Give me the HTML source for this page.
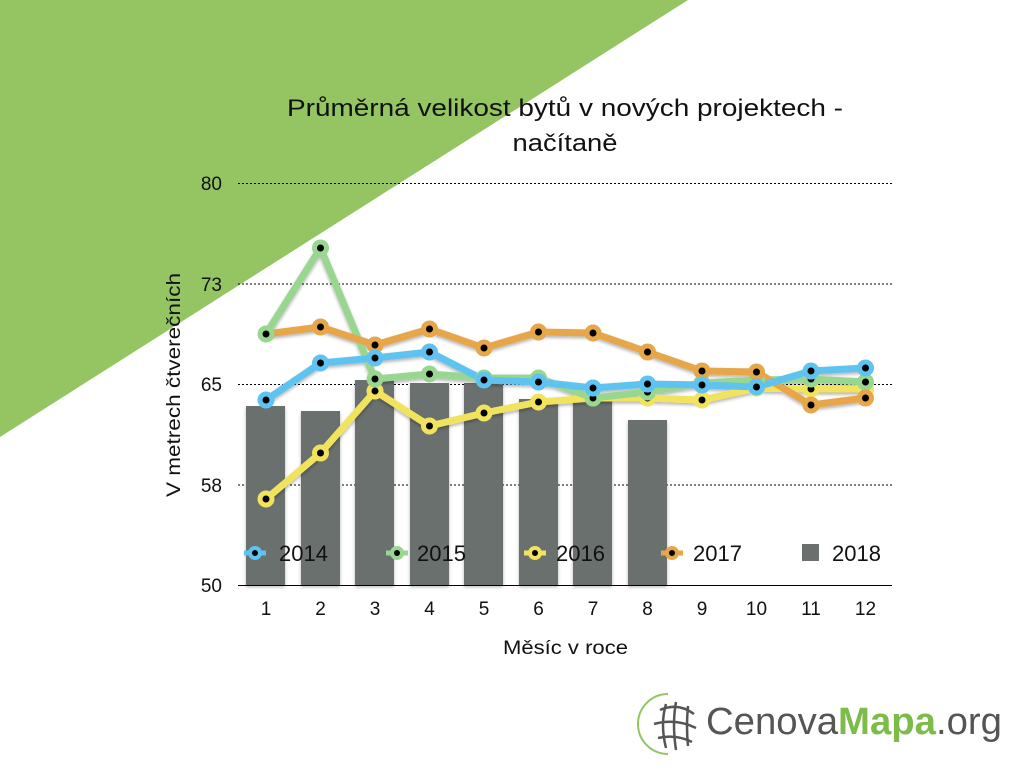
<!DOCTYPE html>
<html><head><meta charset="utf-8"><style>
html,body{margin:0;padding:0;background:#fff;}
svg{display:block;font-family:"Liberation Sans",sans-serif;}
</style></head><body>
<svg width="1024" height="768" viewBox="0 0 1024 768">
<defs><filter id="sh" x="-10%" y="-10%" width="120%" height="130%"><feDropShadow dx="0" dy="2" stdDeviation="1.5" flood-opacity="0.3"/></filter></defs>
<polygon points="0,0 688,0 0,437" fill="#95c462"/>
<text x="287" y="116" font-size="24" fill="#111" textLength="556" lengthAdjust="spacingAndGlyphs">Průměrná velikost bytů v nových projektech -</text>
<text x="565" y="151" font-size="24" text-anchor="middle" fill="#111" textLength="105" lengthAdjust="spacingAndGlyphs">načítaně</text>
<g stroke="#000" stroke-width="1" stroke-dasharray="2,2">
<line x1="238" y1="183.5" x2="892" y2="183.5"/><line x1="238" y1="284" x2="892" y2="284"/>
<line x1="238" y1="384.5" x2="892" y2="384.5"/><line x1="238" y1="485" x2="892" y2="485"/>
</g>
<line x1="238" y1="585.5" x2="892" y2="585.5" stroke="#000" stroke-width="1"/>
<g font-size="19" fill="#111" text-anchor="end">
<text x="222" y="190">80</text><text x="222" y="291">73</text><text x="222" y="391">65</text><text x="222" y="492">58</text><text x="222" y="592">50</text>
</g>
<g font-size="19" fill="#111" text-anchor="middle">
<text x="266" y="615">1</text><text x="320.5" y="615">2</text><text x="375" y="615">3</text><text x="429.5" y="615">4</text><text x="484" y="615">5</text><text x="538.5" y="615">6</text><text x="593" y="615">7</text><text x="647.5" y="615">8</text><text x="702" y="615">9</text><text x="756.5" y="615">10</text><text x="811" y="615">11</text><text x="865.5" y="615">12</text>
</g>
<text x="503" y="654" font-size="19" fill="#111" textLength="125" lengthAdjust="spacingAndGlyphs">Měsíc v roce</text>
<text transform="translate(180,497) rotate(-90)" font-size="19" fill="#111" textLength="224" lengthAdjust="spacingAndGlyphs">V metrech čtverečních</text>
<g fill="#6b706e" filter="url(#sh)">
<rect x="246" y="406" width="39" height="179"/><rect x="301" y="411" width="39" height="174"/>
<rect x="355" y="380" width="39" height="205"/><rect x="410" y="383" width="39" height="202"/>
<rect x="464" y="383" width="39" height="202"/><rect x="519" y="399" width="39" height="186"/>
<rect x="573" y="400" width="39" height="185"/><rect x="628" y="420" width="39" height="165"/>
</g>
<g fill="none" stroke-width="7" stroke-linejoin="round" filter="url(#sh)">
<polyline stroke="#f2e35f" points="266,499 320.5,453 375,391 429.5,426 484,413 538.5,402 593,398 647.5,398 702,400 756.5,388 811,389 865.5,389"/>
<polyline stroke="#99d68f" points="266,334 320.5,248 375,379 429.5,374 484,378 538.5,378 593,398 647.5,392 702,383 756.5,380 811,379 865.5,382"/>
<polyline stroke="#e6a64a" points="266,334 320.5,327 375,345 429.5,329 484,348 538.5,332 593,333 647.5,352 702,371 756.5,372 811,405 865.5,398"/>
<polyline stroke="#5ec3f0" points="266,400 320.5,363 375,358 429.5,352 484,380 538.5,382 593,388 647.5,384 702,385 756.5,387 811,371 865.5,368"/>
</g>
<g>
<g fill="#000" stroke="#f2e35f" stroke-width="5">
<circle cx="266" cy="499" r="6"/><circle cx="320.5" cy="453" r="6"/><circle cx="375" cy="391" r="6"/><circle cx="429.5" cy="426" r="6"/><circle cx="484" cy="413" r="6"/><circle cx="538.5" cy="402" r="6"/><circle cx="593" cy="398" r="6"/><circle cx="647.5" cy="398" r="6"/><circle cx="702" cy="400" r="6"/><circle cx="756.5" cy="388" r="6"/><circle cx="811" cy="389" r="6"/><circle cx="865.5" cy="389" r="6"/>
</g>
<g fill="#000" stroke="#99d68f" stroke-width="5">
<circle cx="266" cy="334" r="6"/><circle cx="320.5" cy="248" r="6"/><circle cx="375" cy="379" r="6"/><circle cx="429.5" cy="374" r="6"/><circle cx="484" cy="378" r="6"/><circle cx="538.5" cy="378" r="6"/><circle cx="593" cy="398" r="6"/><circle cx="647.5" cy="392" r="6"/><circle cx="702" cy="383" r="6"/><circle cx="756.5" cy="380" r="6"/><circle cx="811" cy="379" r="6"/><circle cx="865.5" cy="382" r="6"/>
</g>
<g fill="#000" stroke="#e6a64a" stroke-width="5">
<circle cx="320.5" cy="327" r="6"/><circle cx="375" cy="345" r="6"/><circle cx="429.5" cy="329" r="6"/><circle cx="484" cy="348" r="6"/><circle cx="538.5" cy="332" r="6"/><circle cx="593" cy="333" r="6"/><circle cx="647.5" cy="352" r="6"/><circle cx="702" cy="371" r="6"/><circle cx="756.5" cy="372" r="6"/><circle cx="811" cy="405" r="6"/><circle cx="865.5" cy="398" r="6"/>
</g>
<g fill="#000" stroke="#5ec3f0" stroke-width="5">
<circle cx="266" cy="400" r="6"/><circle cx="320.5" cy="363" r="6"/><circle cx="375" cy="358" r="6"/><circle cx="429.5" cy="352" r="6"/><circle cx="484" cy="380" r="6"/><circle cx="538.5" cy="382" r="6"/><circle cx="593" cy="388" r="6"/><circle cx="647.5" cy="384" r="6"/><circle cx="702" cy="385" r="6"/><circle cx="756.5" cy="387" r="6"/><circle cx="811" cy="371" r="6"/><circle cx="865.5" cy="368" r="6"/>
</g>
</g>
<g font-size="22" fill="#111">
<line x1="244" y1="553" x2="266" y2="553" stroke="#5ec3f0" stroke-width="5"/><circle cx="255" cy="553" r="5" fill="#000" stroke="#5ec3f0" stroke-width="4"/><text x="279" y="561">2014</text>
<line x1="386" y1="553" x2="408" y2="553" stroke="#99d68f" stroke-width="5"/><circle cx="397" cy="553" r="5" fill="#000" stroke="#99d68f" stroke-width="4"/><text x="417" y="561">2015</text>
<line x1="524" y1="553" x2="546" y2="553" stroke="#f2e35f" stroke-width="5"/><circle cx="535" cy="553" r="5" fill="#000" stroke="#f2e35f" stroke-width="4"/><text x="556" y="561">2016</text>
<line x1="661" y1="553" x2="683" y2="553" stroke="#e6a64a" stroke-width="5"/><circle cx="672" cy="553" r="5" fill="#000" stroke="#e6a64a" stroke-width="4"/><text x="693" y="561">2017</text>
<rect x="802" y="544" width="17" height="17" fill="#6b706e"/><text x="832" y="561">2018</text>
</g>
<g transform="translate(648,692)">
<path d="M20,2 A22,22 0 0 0 20,62" fill="none" stroke="#95c462" stroke-width="2"/>
<g fill="none" stroke="#555" stroke-width="2.5">
<path d="M12,18 Q30,10 46,22"/><path d="M6,32 Q28,26 48,36"/><path d="M10,46 Q28,42 44,50"/>
<path d="M18,12 Q12,32 18,56"/><path d="M28,10 Q24,32 28,58"/><path d="M40,14 Q38,34 40,54"/>
</g>
</g>
<text x="706" y="734" font-size="38" fill="#555" textLength="296" lengthAdjust="spacingAndGlyphs">Cenova<tspan fill="#7dbb4a" font-weight="bold">Mapa</tspan>.org</text>
</svg>
</body></html>
